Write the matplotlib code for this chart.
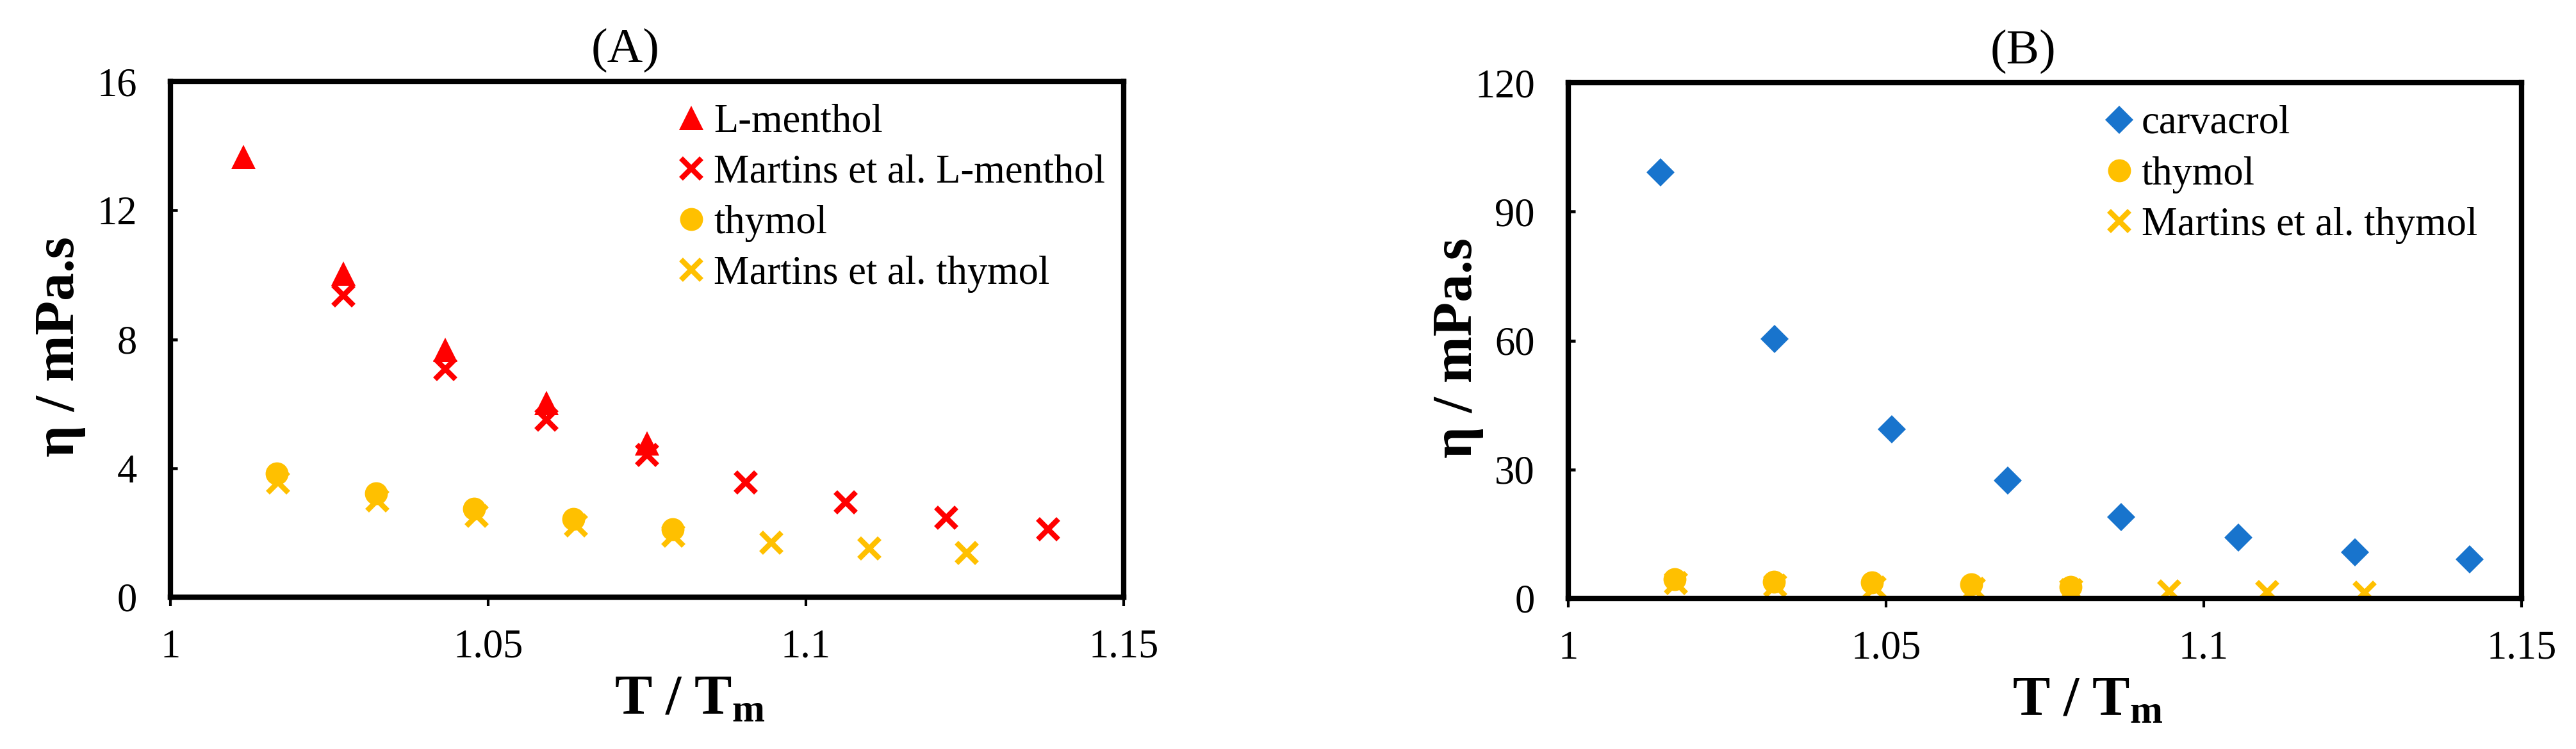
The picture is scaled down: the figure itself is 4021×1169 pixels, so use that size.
import matplotlib
matplotlib.use('Agg')
import matplotlib.pyplot as plt

plt.rcParams['font.family'] = ['Liberation Serif', 'DejaVu Serif']
plt.rcParams['mathtext.fontset'] = 'custom'
plt.rcParams['mathtext.rm'] = 'Liberation Serif'
plt.rcParams['mathtext.bf'] = 'Liberation Serif:bold'
plt.rcParams['mathtext.it'] = 'Liberation Serif:italic'

# panel (A)
t_menthol = [1.0115, 1.0272, 1.0432, 1.0592, 1.0750]
eta_menthol = [13.65, 10.03, 7.67, 6.02, 4.77]
t_martins_menthol = [1.0272, 1.0432, 1.0592, 1.0750, 1.0905, 1.1063, 1.1221, 1.1381]
eta_martins_menthol = [9.36, 7.08, 5.51, 4.41, 3.56, 2.95, 2.47, 2.10]
t_thymol = [1.0167, 1.0324, 1.0478, 1.0634, 1.0790]
eta_thymol_a = [3.84, 3.21, 2.75, 2.43, 2.11]
t_martins_thymol = [1.0169, 1.0326, 1.0482, 1.0638, 1.0791, 1.0946, 1.1100, 1.1253]
eta_martins_thymol = [3.56, 3.00, 2.52, 2.22, 1.91, 1.68, 1.52, 1.38]

# panel (B)
t_carvacrol = [1.0145, 1.0325, 1.0509, 1.0692, 1.0870, 1.1054, 1.1238, 1.1418]
eta_carvacrol = [99.2, 60.3, 39.3, 27.4, 18.9, 14.2, 10.7, 9.1]
eta_thymol_b = [4.45, 3.9, 3.8, 3.3, 2.7]

x_ticks = [1, 1.05, 1.1, 1.15]
x_ticklabels = ['1', '1.05', '1.1', '1.15']
y_ticks_a = [0, 4, 8, 12, 16]
y_ticks_b = [0, 30, 60, 90, 120]

RED = '#FF0000'
GOLD = '#FFC000'
BLUE = '#1874CD'

W, H = 4021, 1169
fig = plt.figure(figsize=(W / 300, H / 300), dpi=300)
ax_a = fig.add_axes([266 / W, 1 - 932 / H, 1488 / W, 805 / H])
ax_b = fig.add_axes([2448 / W, 1 - 934 / H, 1488 / W, 805 / H])


def style_axes(ax, yticks, title):
    ax.set_xlim(1, 1.15)
    ax.set_ylim(yticks[0], yticks[-1])
    ax.set_xticks(x_ticks)
    ax.set_xticklabels(x_ticklabels)
    ax.set_yticks(yticks)
    for s in ax.spines.values():
        s.set_linewidth(2.0)
    ax.tick_params(axis='x', direction='out', length=3.4, width=1.0, pad=8.5, labelsize=15)
    ax.tick_params(axis='y', direction='in', length=2.6, width=1.1, pad=12.5, labelsize=15)
    ax.set_xlabel(r'$\mathbf{T\ /\ T_m}$', fontsize=21, va='top')
    ax.xaxis.set_label_coords(0.545, -0.15)
    ax.set_ylabel('η / mPa.s', fontsize=21, fontweight='bold')
    ax.yaxis.set_label_coords(-0.089, 0.486)
    ax.text(0.477, 1.06, title, transform=ax.transAxes, ha='center', va='center', fontsize=18.5)


leg_kw = dict(loc='upper left', frameon=False, fontsize=15, handlelength=0.8,
              handletextpad=0.16, labelspacing=0.34, borderpad=0, borderaxespad=0)

kw = dict(linestyle='none')
ax_a.plot(t_menthol, eta_menthol, marker='^', ms=9, color=RED, mew=0, label='L-menthol', **kw)
ax_a.plot(t_martins_menthol, eta_martins_menthol, marker='x', ms=7.8, mew=2.0, color=RED,
          label='Martins et al. L-menthol', **kw)
ax_a.plot(t_thymol, eta_thymol_a, marker='o', ms=8.6, color=GOLD, mew=0, label='thymol', **kw)
ax_a.plot(t_martins_thymol, eta_martins_thymol, marker='x', ms=7.8, mew=2.0, color=GOLD,
          label='Martins et al. thymol', **kw)
style_axes(ax_a, y_ticks_a, '(A)')
ax_a.legend(bbox_to_anchor=(0.5296, 0.957), **leg_kw)

ax_b.plot(t_carvacrol, eta_carvacrol, marker='D', ms=7.3, color=BLUE, mew=0, label='carvacrol', **kw)
ax_b.plot(t_thymol, eta_thymol_b, marker='o', ms=8.6, color=GOLD, mew=0, label='thymol', **kw)
ax_b.plot(t_martins_thymol, eta_martins_thymol, marker='x', ms=7.8, mew=2.0, color=GOLD,
          label='Martins et al. thymol', **kw)
style_axes(ax_b, y_ticks_b, '(B)')
ax_b.legend(bbox_to_anchor=(0.561, 0.956), **leg_kw)

fig.savefig('out.png', dpi=300)
